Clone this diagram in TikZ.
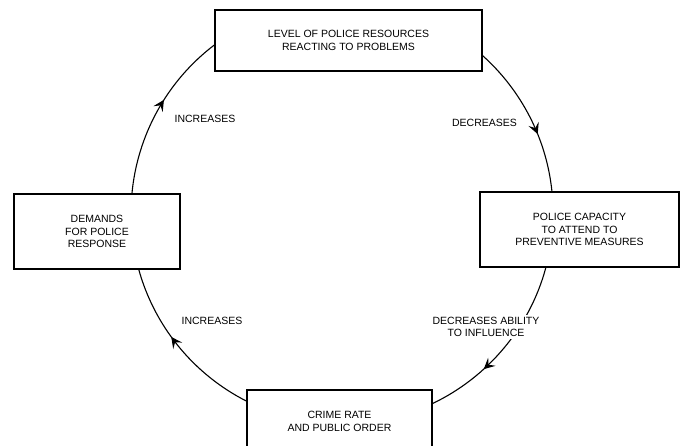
\documentclass[tikz,border=0pt]{standalone}
\usepackage{fontspec}
\setmainfont{Liberation Sans}
\usetikzlibrary{arrows.meta, decorations.markings}

\begin{document}
\begin{tikzpicture}[x=1pt, y=1pt,
box_style/.style={rectangle, draw=black, line width=1.2pt, fill=white, outer sep=0pt, align=center, font=\fontsize{10.5}{12.5}\selectfont},
label_style/.style={align=center, inner sep=2pt, font=\fontsize{10.5}{12.5}\selectfont},
loop_style/.style={line width=1.1pt, black, postaction={decorate}, decoration={markings, mark=at position #1 with {\arrow{Stealth[length=11pt, width=11pt, inset=4.5pt]}}}},
		]

	\useasboundingbox (0,0) rectangle (683,446);
	\clip (0,0) rectangle (683,446);

\begin{scope}[xshift=0cm]

	\node[box_style, minimum width=267pt, minimum height=61pt] at (348.5,405.5) (resources) []{LEVEL OF POLICE RESOURCES\\REACTING TO PROBLEMS};
	\node[box_style, minimum width=199pt, minimum height=75pt] at (579.5,216.5) (capacity) []{POLICE CAPACITY\\TO ATTEND TO\\PREVENTIVE MEASURES};
	\node[box_style, minimum width=185pt, minimum height=63pt] at (339.5,24.5) (crime) []{CRIME RATE\\AND PUBLIC ORDER};
	\node[box_style, minimum width=166pt, minimum height=75pt] at (97,214.5) (demands) []{DEMANDS\\FOR POLICE\\RESPONSE};

	% the loop, clockwise
	\draw[loop_style=0.62] ([yshift=-14.6pt]resources.east) to[out=-41.6, in=95.7, looseness=0.88] ([xshift=-27.5pt]capacity.north);
	\draw[loop_style=0.66] ([xshift=-33.5pt]capacity.south) to[out=-104.8, in=25.3, looseness=0.89] ([yshift=17.7pt]crime.east);
	\draw[loop_style=0.57] ([yshift=20.1pt]crime.west) to[out=153.2, in=-74.6, looseness=0.89] ([xshift=41.6pt]demands.south);
	\draw[loop_style=0.57] ([xshift=34.9pt]demands.north) to[out=84.8, in=-143, looseness=0.89] ([yshift=-4pt]resources.west);

	\node[label_style] at (205,327) (inc_top) []{INCREASES};
	\node[label_style] at (484.5,323) (dec_top) []{DECREASES};
	\node[label_style] at (212,125) (inc_bottom) []{INCREASES};
	\node[label_style, fill=white] at (486,119) (dec_bottom) []{DECREASES ABILITY\\TO INFLUENCE};

\end{scope}

\end{tikzpicture}
\end{document}
